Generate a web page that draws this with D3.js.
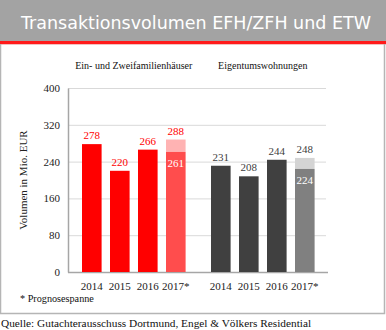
<!DOCTYPE html>
<html><head><meta charset="utf-8">
<script src="https://cdn.jsdelivr.net/npm/d3@7/dist/d3.min.js"></script>
<style>body{margin:0;background:#fff}svg{display:block}
.sf{font-family:"Liberation Serif","Times New Roman","DejaVu Serif",serif;}
</style>
</head><body>
<script>
const title = "Transaktionsvolumen EFH/ZFH und ETW";
const years = ["2014", "2015", "2016", "2017*"];
const groupTitles = ["Ein- und Zweifamilienhäuser", "Eigentumswohnungen"];
const efhValues = [278, 220, 266, 261];
const efhForecastTop = 288;
const etwValues = [231, 208, 244, 224];
const etwForecastTop = 248;
const yTicks = [0, 80, 160, 240, 320, 400];
const yLabel = "Volumen in Mio. EUR";
const footnote = "* Prognosespanne";
const source = "Quelle: Gutachterausschuss Dortmund, Engel & Völkers Residential";

const W = 386, H = 330;
const svg = d3.select("body").append("svg").attr("width", W).attr("height", H);

// header
svg.append("rect").attr("x", 0).attr("y", 0).attr("width", W).attr("height", 41).attr("fill", "#a3a3a3");
svg.append("rect").attr("x", 0).attr("y", 41).attr("width", W).attr("height", 3).attr("fill", "#ff1a1a");
svg.append("rect").attr("x", 0).attr("y", 44).attr("width", W).attr("height", 1).attr("fill", "#f3c0c0");
svg.append("text").attr("x", 196).attr("y", 29).attr("text-anchor", "middle")
  .style("font-family", "'DejaVu Sans',Verdana,sans-serif").attr("font-size", 17)
  .attr("textLength", 350).attr("lengthAdjust", "spacingAndGlyphs")
  .attr("fill", "#fff").text(title);

// frame
svg.append("path").attr("d", "M0.5,44 V313.5 H384.5 V44").attr("fill", "none").attr("stroke", "#b5b5b5").attr("stroke-width", 1.5);

const y = d3.scaleLinear().domain([0, 400]).range([272, 88]);
const x0 = 68, x1 = 326;

// gridlines
svg.append("g").selectAll("line").data(yTicks.filter(d => d > 0)).join("line")
  .attr("x1", x0).attr("x2", x1).attr("y1", d => y(d) + 0.5).attr("y2", d => y(d) + 0.5)
  .attr("stroke", "#d9d9d9").attr("stroke-width", 1);

// y axis
const yAxis = d3.axisLeft(y).tickValues(yTicks).tickSize(0).tickPadding(8);
const ga = svg.append("g").attr("transform", `translate(${x0},0)`).call(yAxis);
ga.attr("font-family", null).attr("font-size", null);
ga.select(".domain").attr("stroke", "#a6a6a6").attr("stroke-width", 1.5);
ga.selectAll("text").attr("class", "sf").attr("font-size", 11).attr("fill", "#222");

svg.append("line").attr("x1", x0).attr("x2", x1 + 2).attr("y1", 272.5).attr("y2", 272.5)
  .attr("stroke", "#a6a6a6").attr("stroke-width", 1.5);

svg.append("text").attr("class", "sf").attr("transform", "translate(27,180) rotate(-90)").attr("text-anchor", "middle")
  .attr("font-size", 11).attr("fill", "#222").text(yLabel);

const groups = [
  { values: efhValues, top: efhForecastTop, range: [77.8, 189.8], title: groupTitles[0],
    main: "#ff0000", fc: "#ff4d4d", fcTop: "#ffb3b3", label: "#ff0000" },
  { values: etwValues, top: etwForecastTop, range: [206.8, 318.8], title: groupTitles[1],
    main: "#404040", fc: "#808080", fcTop: "#d4d4d4", label: "#404040" }
];

groups.forEach(g => {
  const xb = d3.scaleBand().domain(years).range(g.range).paddingInner(0.3).paddingOuter(0.15);
  const cx = (xb(years[0]) + xb(years[3]) + xb.bandwidth()) / 2;
  svg.append("text").attr("class", "sf").attr("x", cx).attr("y", 69).attr("text-anchor", "middle")
    .attr("font-size", 10).attr("fill", "#111").text(g.title);

  const last = years.length - 1;
  svg.append("rect").attr("x", xb(years[last])).attr("width", xb.bandwidth())
    .attr("y", y(g.top)).attr("height", y(g.values[last]) - y(g.top)).attr("fill", g.fcTop);
  svg.append("g").selectAll("rect").data(g.values).join("rect")
    .attr("x", (d, i) => xb(years[i])).attr("width", xb.bandwidth())
    .attr("y", d => y(d)).attr("height", d => y(0) - y(d))
    .attr("fill", (d, i) => i === last ? g.fc : g.main);
  svg.append("g").selectAll("text").data(g.values).join("text").attr("class", "sf")
    .attr("x", (d, i) => xb(years[i]) + xb.bandwidth() / 2)
    .attr("y", (d, i) => i === last ? y(d) + 15 : y(d) - 5)
    .attr("text-anchor", "middle").attr("font-size", 11)
    .attr("fill", (d, i) => i === last ? "#fff" : g.label).text(d => d);
  svg.append("text").attr("class", "sf").attr("x", xb(years[last]) + xb.bandwidth() / 2).attr("y", y(g.top) - 5)
    .attr("text-anchor", "middle").attr("font-size", 11)
    .attr("fill", g.label).text(g.top);

  const xAxis = d3.axisBottom(xb).tickSize(0).tickPadding(10);
  const gx = svg.append("g").attr("transform", "translate(0,272)").call(xAxis);
  gx.attr("font-family", null).attr("font-size", null);
  gx.select(".domain").remove();
  gx.selectAll("text").attr("class", "sf").attr("font-size", 11).attr("fill", "#222");
});

svg.append("text").attr("class", "sf").attr("x", 20).attr("y", 302).attr("font-size", 10.2)
  .attr("fill", "#111").text(footnote);
svg.append("text").attr("class", "sf").attr("x", 1).attr("y", 327).attr("font-size", 11.3)
  .attr("fill", "#111").text(source);
</script>
</body></html>
